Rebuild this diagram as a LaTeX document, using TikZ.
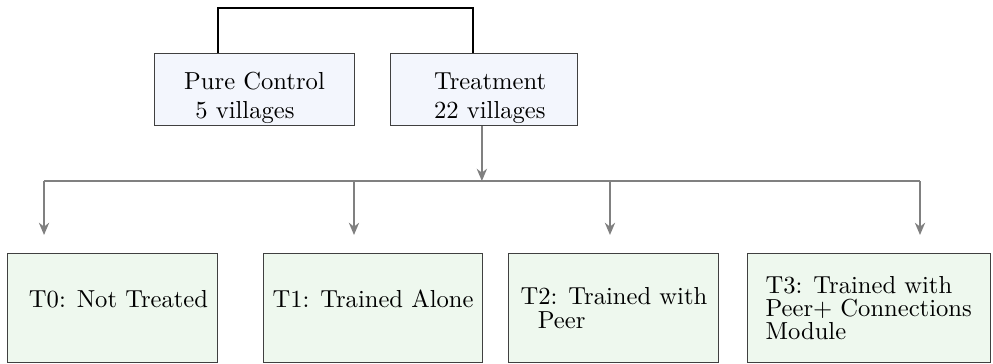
\documentclass[tikz,border=0pt]{standalone}
\usepackage{tikz}
\usetikzlibrary{arrows.meta, calc, positioning}
\definecolor{ctrlfill}{RGB}{243,246,253}
\definecolor{armfill}{RGB}{238,248,238}

\begin{document}
\begin{tikzpicture}[
    group/.style={draw=black!75, fill=ctrlfill, minimum height=1.04cm, inner ysep=0pt, align=left},
    arm/.style={draw=black!75, fill=armfill, minimum height=1.571cm, align=left, font=\fontsize{10}{9.5}\selectfont},
    link/.style={thick, black},
    branch/.style={semithick, gray},
    branchA/.style={branch, -{Stealth[length=5pt, width=4.2pt]}}
]

% fast ramme
\useasboundingbox (0,0) rectangle (14.186,5.2);

% grupper
\node[group, minimum width=2.87cm] (pc) at (3.636,3.921) {\rule{0pt}{13.7pt}Pure Control\\\hspace*{4.5pt}5 villages};
\node[group, minimum width=2.66cm] (tr) at (6.914,3.921) {\rule{0pt}{13.7pt}\hspace*{5pt}Treatment\\\hspace*{5pt}22 villages};

% behandlingsarme
\node[arm, minimum width=3.0cm, text height=7pt, text depth=7pt] (t0) at (1.614,0.8) {\hspace*{4.5pt}T0: Not Treated};
\node[arm, minimum width=3.14cm, text height=7pt, text depth=7pt] (t1) at (5.329,0.8) {T1: Trained Alone};
\node[arm, minimum width=3.0cm] (t2) at (8.771,0.8) {T2: Trained with\\\hspace*{7pt}Peer};
\node[arm, minimum width=3.47cm] (t3) at (12.41,0.8) {T3: Trained with\\Peer+ Connections\\Module};

% forgreningspunkter
\foreach \n/\x in {0/0.629,1/5.057,2/8.714,3/13.143} {
    \coordinate (b\n) at (\x,2.614);
    \coordinate (e\n) at (\x,1.843);
}

% forbindelser
\draw[link] ([xshift=-0.52cm]pc.north) -- ++(0,0.643) -| ([xshift=-0.157cm]tr.north);
\draw[branchA] ([xshift=-0.03cm]tr.south) -- ([xshift=-0.03cm]tr.south |- b0);
\draw[branch] (b0) -- (b3);
\foreach \n in {0,...,3}
    \draw[branchA] (b\n) -- (e\n);

\end{tikzpicture}
\end{document}
